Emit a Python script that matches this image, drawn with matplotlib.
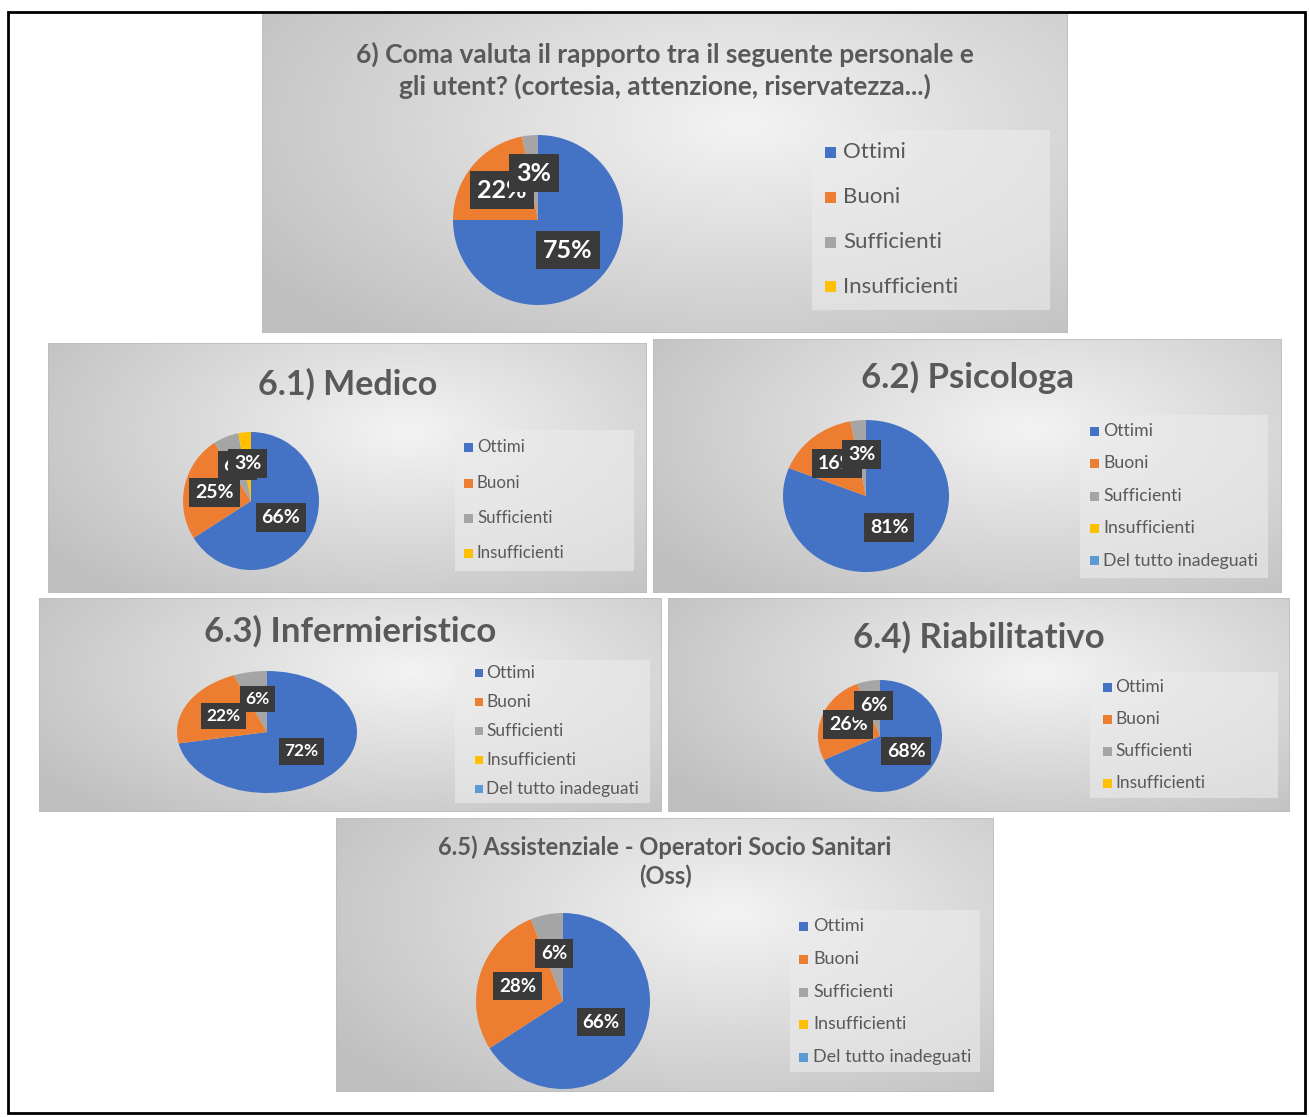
"""Soddisfazione rapporto personale-utenti: sei grafici a torta stile Excel."""
import numpy as np
import matplotlib.pyplot as plt
from matplotlib.patches import Rectangle

plt.rcParams['font.family'] = ['Lato', 'DejaVu Sans']

# categorie
cat4 = ["Ottimi", "Buoni", "Sufficienti", "Insufficienti"]
cat5 = ["Ottimi", "Buoni", "Sufficienti", "Insufficienti", "Del tutto inadeguati"]

# valori percentuali
val_totale = [75, 22, 3, 0]
val_medico = [66, 25, 6, 3]
val_psicologa = [81, 16, 3, 0, 0]
val_infermieristico = [72, 22, 6, 0, 0]
val_riabilitativo = [68, 26, 6, 0]
val_oss = [66, 28, 6, 0, 0]

titles = [
    "6) Coma valuta il rapporto tra il seguente personale e\ngli utent? (cortesia, attenzione, riservatezza...)",
    "6.1) Medico",
    "6.2) Psicologa",
    "6.3) Infermieristico",
    "6.4) Riabilitativo",
    "6.5) Assistenziale - Operatori Socio Sanitari\n(Oss)",
]

colors = ["#4472C4", "#ED7D31", "#A5A5A5", "#FFC000", "#5B9BD5"]
TXT = "#595959"

W, H = 1309, 1117
fig = plt.figure(figsize=(W / 100, H / 100), dpi=100)


def fx(x):
    return x / W


def fy(y):
    return 1 - y / H


def box_axes(x0, y0, x1, y1):
    return fig.add_axes([fx(x0), fy(y1), (x1 - x0) / W, (y1 - y0) / H])


def gradient_bg(x0, y0, x1, y1):
    ax = box_axes(x0, y0, x1, y1)
    ny, nx = 120, 240
    xx, yy = np.meshgrid(np.linspace(0, 1, nx), np.linspace(0, 1, ny))
    d = np.sqrt(((xx - 0.6) / 0.75) ** 2 + ((yy - 0.35) / 0.9) ** 2)
    v = np.clip(0.955 - 0.21 * d, 0.75, 0.96)
    img = np.dstack([v, v, v])
    ax.imshow(img, extent=[0, 1, 0, 1], aspect='auto', origin='upper', zorder=0)
    ax.set_xlim(0, 1)
    ax.set_ylim(0, 1)
    ax.axis('off')
    ax.add_patch(Rectangle((0, 0), 1, 1, fill=False, edgecolor="#bdbdbd", lw=1.2))
    return ax


def draw_panel(box, title, tpos, tsize, values, labels, pie, lsize, legend, rows, lab_size):
    gradient_bg(*box)
    fig.text(fx(tpos[0]), fy(tpos[1]), title, ha='center', va='center',
             fontsize=tsize, fontweight='bold', color=TXT, linespacing=1.3)

    cx, cy, rx, ry = pie
    ax = box_axes(cx - rx, cy - ry, cx + rx, cy + ry)
    wedges, _ = ax.pie(values, colors=colors[:len(values)], startangle=90,
                       counterclock=False, radius=1)
    ax.set_aspect('auto')
    ax.set_xlim(-1, 1)
    ax.set_ylim(-1, 1)
    ax.axis('off')
    for w, v in zip(wedges, values):
        if v <= 0:
            continue
        ang = np.deg2rad((w.theta1 + w.theta2) / 2)
        dist = 0.5 if v >= 50 else 0.55
        ax.text(dist * np.cos(ang), dist * np.sin(ang), f"{v}%",
                ha='center', va='center', color='white', fontweight='bold',
                fontsize=lab_size,
                bbox=dict(boxstyle='square,pad=0.3', fc='#3a3a3a', ec='none'))

    lx0, ly0, lx1, ly1 = legend
    fig.patches.append(Rectangle((fx(lx0), fy(ly1)), (lx1 - lx0) / W, (ly1 - ly0) / H,
                                 transform=fig.transFigure, fc='#ececec', ec='none',
                                 alpha=0.6, zorder=1))
    mx, tx, ms = rows[0], rows[1], rows[2]
    for i, name in enumerate(labels):
        yy = rows[3][i]
        fig.patches.append(Rectangle((fx(mx), fy(yy + ms / 2)), ms / W, ms / H,
                                     transform=fig.transFigure, fc=colors[i],
                                     ec='none', zorder=2))
        fig.text(fx(tx), fy(yy), name, ha='left', va='center',
                 fontsize=lsize, color=TXT, zorder=3)


draw_panel((262, 12, 1068, 333), titles[0], (665, 70), 19, val_totale, cat4,
           (538, 220, 85, 85), 16, (812, 130, 1050, 310),
           (825, 843, 11, [152, 197, 242, 287]), 18)
draw_panel((48, 343, 647, 593), titles[1], (348, 384), 24.5, val_medico, cat4,
           (251, 501, 68, 69), 12.2, (455, 430, 634, 571),
           (464, 477, 9, [447, 483, 518, 553]), 14)
draw_panel((653, 339, 1282, 593), titles[2], (967, 377), 25, val_psicologa, cat5,
           (866, 496, 83, 76), 12.7, (1080, 415, 1268, 578),
           (1090, 1103, 9, [431, 463, 496, 528, 561]), 14)
draw_panel((39, 598, 662, 812), titles[3], (350, 631), 25, val_infermieristico, cat5,
           (267, 732, 90, 61), 12.5, (455, 660, 650, 803),
           (475, 486, 8, [673, 702, 731, 760, 789]), 12.5)
draw_panel((668, 598, 1290, 812), titles[4], (979, 637), 25, val_riabilitativo, cat4,
           (880, 736, 62, 56), 12.5, (1090, 672, 1278, 798),
           (1103, 1115, 9, [687, 719, 751, 783]), 14)
draw_panel((336, 818, 994, 1092), titles[5], (665, 862), 17, val_oss, cat5,
           (563, 1001, 87, 88), 13, (790, 910, 980, 1072),
           (799, 813, 9, [926, 959, 992, 1024, 1057]), 13.5)

# cornice nera esterna
fig.patches.append(Rectangle((fx(8), fy(1113)), (1305 - 8) / W, (1113 - 12) / H,
                             transform=fig.transFigure, fill=False, ec='black',
                             lw=2, zorder=5))

fig.savefig("out.png", dpi=100)
